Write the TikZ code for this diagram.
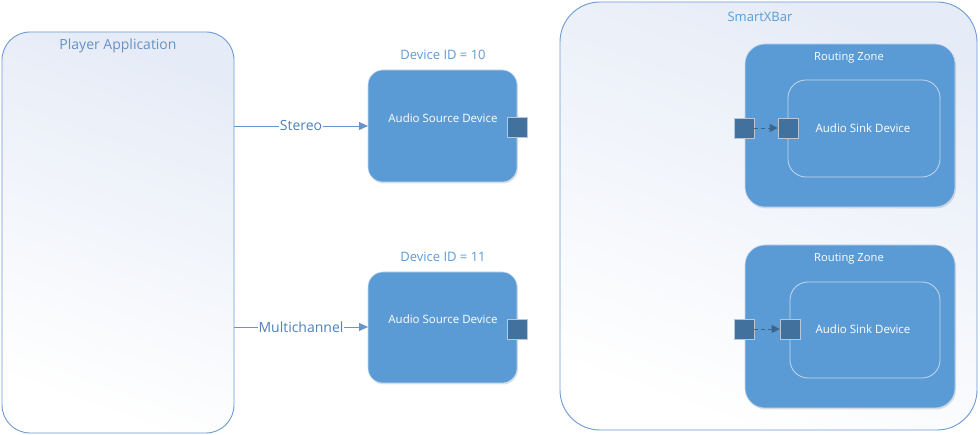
\documentclass[tikz,border=0pt]{standalone}
\usepackage{fontspec}
\setmainfont{Open Sans}
\usetikzlibrary{arrows.meta,shadows}
\definecolor{boxblue}{HTML}{5B9BD5}
\definecolor{portblue}{HTML}{41719C}
\definecolor{edgeblue}{HTML}{6C9BD2}
\definecolor{titleblue}{HTML}{5B9BD5}
\definecolor{apptitle}{HTML}{6A8FC4}
\definecolor{labelblue}{HTML}{4F81BD}
\definecolor{lightedge}{HTML}{C5D8EE}
\definecolor{gradtop}{HTML}{E6ECF7}
\tikzset{
  container/.style={draw=edgeblue, line width=0.9pt, rounded corners=#1, top color=gradtop, bottom color=white, shading angle=-20},
  device/.style={draw=lightedge, line width=0.6pt, fill=boxblue, rounded corners=15pt, drop shadow={shadow xshift=1pt, shadow yshift=-1.5pt, opacity=0.25}},
  zone/.style={draw=lightedge, line width=0.6pt, fill=boxblue, rounded corners=20pt, drop shadow={shadow xshift=1pt, shadow yshift=-1.5pt, opacity=0.25}},
  sink/.style={draw=lightedge, line width=0.8pt, rounded corners=18pt},
  port/.style={draw=lightedge!80!gray, line width=0.6pt, fill=portblue, minimum size=20pt, inner sep=0pt},
  titletext/.style={text=titleblue, font=\fontsize{13}{15}\selectfont},
  whitetext/.style={text=white, font=\fontsize{11.5}{13}\selectfont},
  conn/.style={draw=labelblue!85, line width=0.8pt, -{Triangle[length=9pt,width=8pt]}},
  connlabel/.style={midway, fill=white, inner sep=0.5pt, text=labelblue, font=\fontsize{14}{16}\selectfont},
  portconn/.style={draw=portblue!90!black, line width=0.8pt, dashed, dash pattern=on 4pt off 3pt, -{Triangle[length=8pt,width=8pt]}},
}
\begin{document}
\begin{tikzpicture}[x=1pt,y=-1pt]
\useasboundingbox (0,0) rectangle (980,435);
% containers
\path[container=28pt] (2,32) rectangle (234,433);
\node[text=apptitle, font=\fontsize{14}{16}\selectfont] (apptitle) at (118,46) {Player Application};
\coordinate (app1) at (234,126);
\coordinate (app2) at (234,327);
\path[container=40pt] (560,2) rectangle (977,430);
\node[titletext] (xbartitle) at (760,17) {SmartXBar};

% source devices
\node[titletext] (id10) at (443,55) {Device ID = 10};
\path[device] (368,70) rectangle (517,182);
\node[whitetext] (src1) at (443,118) {Audio Source Device};
\coordinate (src1w) at (368,126);
\node[port] (p1) at (517,127) {};

\node[titletext] (id11) at (443,257) {Device ID = 11};
\path[device] (368,272) rectangle (517,383);
\node[whitetext] (src2) at (443,319) {Audio Source Device};
\coordinate (src2w) at (368,327);
\node[port] (p2) at (517,329) {};

\draw[conn] (app1) -- (src1w) node[connlabel] {Stereo};
\draw[conn] (app2) -- (src2w) node[connlabel] {Multichannel};

% routing zones
\path[zone] (745,44) rectangle (955,207);
\node[whitetext, font=\fontsize{11.2}{13}\selectfont] (rz1) at (849,58) {Routing Zone};
\path[sink] (788,80) rectangle (940,177);
\node[whitetext] (sink1) at (863,128) {Audio Sink Device};
\node[port] (zp1) at (744,128) {};
\node[port] (sp1) at (788,128) {};
\draw[portconn] (zp1) -- (sp1);

\path[zone] (745,245) rectangle (955,408);
\node[whitetext, font=\fontsize{11.2}{13}\selectfont] (rz2) at (849,259) {Routing Zone};
\path[sink] (790,282) rectangle (940,378);
\node[whitetext] (sink2) at (863,329) {Audio Sink Device};
\node[port] (zp2) at (744,329) {};
\node[port] (sp2) at (790,329) {};
\draw[portconn] (zp2) -- (sp2);
\end{tikzpicture}
\end{document}
